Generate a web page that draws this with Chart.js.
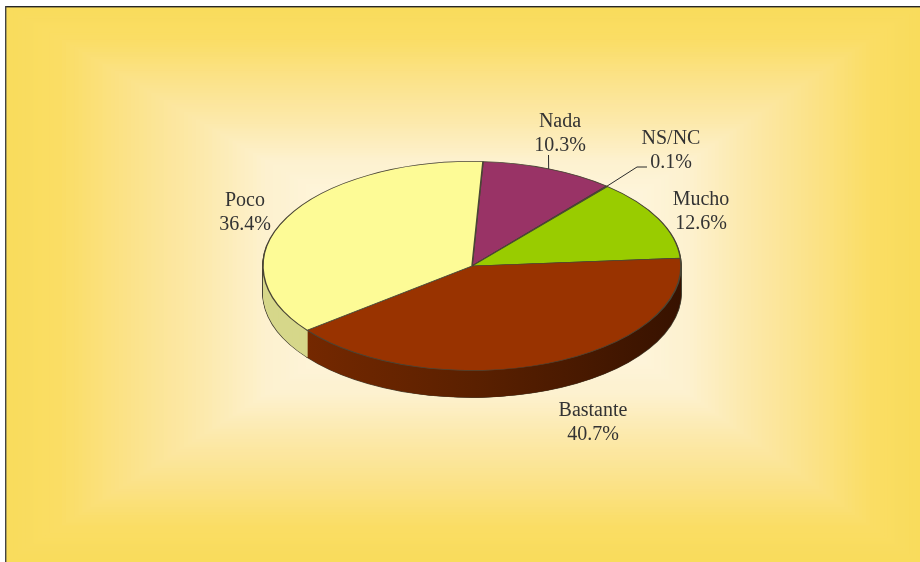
<!DOCTYPE html>
<html>
<head>
<meta charset="utf-8">
<style>
  html, body { margin: 0; padding: 0; background: #fff; }
  canvas { display: block; }
</style>
<script src="https://cdn.jsdelivr.net/npm/chart.js@4"></script>
</head>
<body>
<canvas id="pie" width="920" height="562"></canvas>
<script>
const categories = ["Nada", "NS/NC", "Mucho", "Bastante", "Poco"];
const percents = [10.3, 0.1, 12.6, 40.7, 36.4];
const percentLabels = ["10.3%", "0.1%", "12.6%", "40.7%", "36.4%"];

const topColors = ["#993366", "#333333", "#99cc00", "#993300", "#fdfb96"];
const sideColors = ["#5c1f3d", "#222222", "#4d6600", "#5a2000", "#d6d78a"];

// label centre x and first baseline, hand placed like the original
const labelSpots = [[560, 127], [671, 144], [701, 205], [593, 416], [245, 206]];
const leaderBends = [[[548.5, 155]], [[637, 167], [647, 167]], null, null, null];

const squash = 0.5;
const depth = 27;

function setPieTransform(ctx, chart, dy) {
  const cy = chart.getDatasetMeta(0).data[0].y;
  ctx.translate(0, cy + dy);
  ctx.scale(1, squash);
  ctx.translate(0, -cy);
}

function drawArcWith(el, ctx, fill, stroke, width) {
  const saved = el.options;
  el.options = {
    backgroundColor: fill, borderColor: stroke, borderWidth: width,
    borderAlign: "center", borderJoinStyle: "round", borderRadius: 0,
    spacing: 0, offset: 0, circular: true
  };
  el.draw(ctx);
  el.options = saved;
}

const backdrop = {
  id: "backdrop",
  beforeDraw(chart) {
    const ctx = chart.ctx;
    const x0 = 5, y0 = 6, x1 = 920, y1 = 562;
    const stops = [[0, 249, 220, 92], [0.2, 250, 221, 100], [0.45, 251, 226, 135], [0.75, 252, 233, 172], [1, 253, 241, 207], [1.25, 254, 245, 220]];
    const bands = 80;
    for (let i = 0; i <= bands; i++) {
      const t = 1.25 * i / bands;
      let k = 1;
      while (k < stops.length - 1 && stops[k][0] < t) k++;
      const a = stops[k - 1], b = stops[k];
      const f = (t - a[0]) / (b[0] - a[0]);
      const c = [1, 2, 3].map(n => Math.round(a[n] + (b[n] - a[n]) * f));
      const left = x0 + 260 * t, right = x1 - 230 * t, top = y0 + 154 * t, bottom = y1 - 167 * t;
      ctx.fillStyle = "rgb(" + c.join(",") + ")";
      ctx.fillRect(left, top, right - left, bottom - top);
    }
    ctx.fillStyle = "#262626";
    ctx.fillRect(x0, y0, x1 - x0, 1.4);
    ctx.fillStyle = "#444444";
    ctx.fillRect(x0, y0, 1.4, y1 - y0);
  }
};

const tilt = {
  id: "tilt",
  beforeDatasetsDraw(chart) {
    const ctx = chart.ctx;
    const arcs = chart.getDatasetMeta(0).data;

    const shade = ctx.createLinearGradient(307, 0, 681, 0);
    shade.addColorStop(0, "#742800");
    shade.addColorStop(0.45, "#5a2000");
    shade.addColorStop(1, "#371200");

    // dark silhouette first, then the rim on top of it
    for (let d = depth; d > 0; d--) {
      ctx.save();
      setPieTransform(ctx, chart, d);
      arcs.forEach(el => drawArcWith(el, ctx, "#4a4636", "#4a4636", 1.6));
      ctx.restore();
    }
    for (let d = depth; d > 0; d--) {
      ctx.save();
      setPieTransform(ctx, chart, d);
      arcs.forEach((el, i) => drawArcWith(el, ctx, i === 3 ? shade : sideColors[i], "transparent", 0));
      ctx.restore();
    }

    ctx.save();
    setPieTransform(ctx, chart, 0);
  },
  afterDatasetsDraw(chart) {
    const ctx = chart.ctx;
    ctx.restore();

    const arcs = chart.getDatasetMeta(0).data;
    ctx.strokeStyle = "#2b2b2b";
    ctx.lineWidth = 1;
    leaderBends.forEach((bends, i) => {
      if (!bends) return;
      const el = arcs[i];
      const mid = (el.startAngle + el.endAngle) / 2;
      ctx.beginPath();
      ctx.moveTo(el.x + el.outerRadius * Math.cos(mid), el.y + el.outerRadius * squash * Math.sin(mid));
      bends.forEach(p => ctx.lineTo(p[0], p[1]));
      ctx.stroke();
    });

    ctx.fillStyle = "#333333";
    ctx.font = "20px 'Liberation Serif'";
    ctx.textAlign = "center";
    ctx.textBaseline = "alphabetic";
    categories.forEach((name, i) => {
      ctx.fillText(name, labelSpots[i][0], labelSpots[i][1]);
      ctx.fillText(percentLabels[i], labelSpots[i][0], labelSpots[i][1] + 23.5);
    });
  }
};

new Chart(document.getElementById("pie"), {
  type: "pie",
  data: {
    labels: categories,
    datasets: [{
      data: percents,
      backgroundColor: topColors,
      borderColor: "#4a4535",
      borderWidth: 1.5
    }]
  },
  options: {
    responsive: false,
    animation: false,
    rotation: 3,
    layout: { padding: { left: 262.25, right: 238.25, top: 56.25, bottom: 86.25 } },
    plugins: { legend: { display: false }, tooltip: { enabled: false } }
  },
  plugins: [backdrop, tilt]
});
</script>
</body>
</html>
